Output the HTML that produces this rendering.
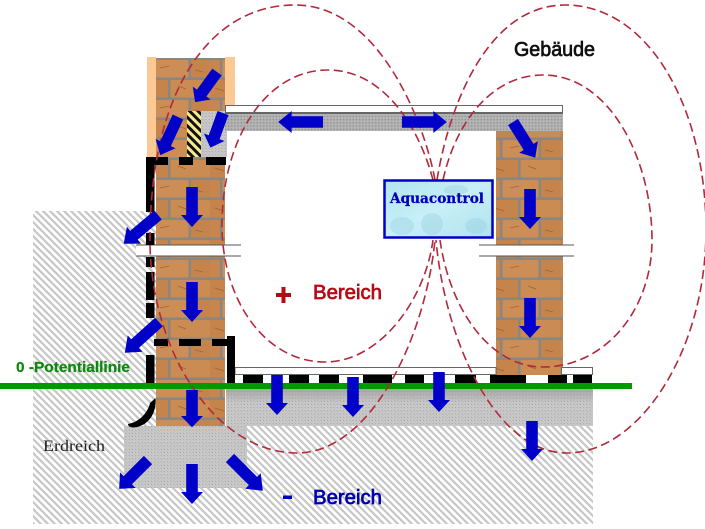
<!DOCTYPE html>
<html><head><meta charset="utf-8"><style>html,body{margin:0;padding:0;background:#fff}svg{display:block}</style></head><body>
<svg xmlns="http://www.w3.org/2000/svg" width="705" height="529" viewBox="0 0 705 529">
<defs>
<pattern id="h" width="7" height="7" patternUnits="userSpaceOnUse"><rect width="7" height="7" fill="#fff"/><path d="M-1.500 -1.500L8.500 8.500M-1.500 5.500L1.500 8.500M5.500 -1.500L8.500 1.500" stroke="#c6c6c6" stroke-width="2.200" fill="none"/></pattern>
<pattern id="g" width="3.200" height="3.200" patternUnits="userSpaceOnUse"><rect width="3.200" height="3.200" fill="#cbcbcb"/><rect x=".6" y=".6" width="1.200" height="1.200" fill="#a2a2a2"/><rect x="2.200" y="2.200" width=".8" height=".8" fill="#b2b2b2"/></pattern>
<pattern id="gd" width="3.200" height="3.200" patternUnits="userSpaceOnUse"><rect width="3.200" height="3.200" fill="#b4b4b4"/><rect x=".6" y=".6" width="1.300" height="1.300" fill="#8a8a8a"/></pattern>
<pattern id="b" width="70" height="40" patternUnits="userSpaceOnUse">
<rect width="70" height="40" fill="#8a8680"/>
<rect x="0" y="0" width="28" height="17.500" rx="1.500" fill="#c4844c"/><rect x="30.500" y="0" width="39.500" height="17.500" rx="1.500" fill="#cb8c54"/>
<rect x="0" y="20" width="10" height="17.500" rx="1.500" fill="#c6864e"/><rect x="12.500" y="20" width="36" height="17.500" rx="1.500" fill="#cc8e56"/><rect x="51" y="20" width="19" height="17.500" rx="1.500" fill="#c4844c"/>
<path d="M5 8l9 3M38 6l8 3M20 28l9-2M55 30l8 2" stroke="#a2622f" stroke-width=".8" fill="none"/>
</pattern>
<pattern id="st" width="6" height="6" patternUnits="userSpaceOnUse" patternTransform="rotate(-45)"><rect width="6" height="6" fill="#f5ea90"/><rect width="3" height="6" fill="#111"/></pattern>
<linearGradient id="sh" x1="0" y1="0" x2="0" y2="1"><stop offset="0" stop-color="#777" stop-opacity=".4"/><stop offset="1" stop-color="#777" stop-opacity="0"/></linearGradient>
<linearGradient id="aq" x1="0" y1="0" x2="1" y2="1"><stop offset="0" stop-color="#b0e4f0"/><stop offset=".5" stop-color="#c8eff6"/><stop offset="1" stop-color="#b0e2ee"/></linearGradient>
<polygon id="a" points="-5.800,0 5.800,0 5.800,28 11,28 0,40 -11,28 -5.800,28" fill="#0000c8"/>
</defs>

<!-- ground -->
<rect x="33" y="211" width="130" height="313" fill="url(#h)"/>
<rect x="163" y="426" width="430" height="98" fill="url(#h)"/>

<!-- footing and floor slab -->
<rect x="124" y="426" width="123" height="62" fill="url(#g)"/>
<rect x="226" y="389" width="367" height="37" fill="url(#g)"/>
<rect x="226" y="389" width="367" height="14" fill="url(#sh)"/>

<!-- left wall -->
<rect x="147" y="57" width="9" height="100" fill="#fbc994"/>
<rect x="225" y="57" width="10" height="48" fill="#fbc994"/>
<rect x="156" y="58" width="69" height="368" fill="url(#b)"/>
<rect x="187" y="111" width="14" height="46" fill="url(#st)"/>
<rect x="201" y="111" width="26" height="46" fill="url(#g)"/>

<!-- right wall -->
<rect x="496" y="131" width="67" height="244" fill="url(#b)"/>

<!-- top slab -->
<rect x="225.500" y="105.500" width="337" height="7" fill="#fff" stroke="#666" stroke-width="1"/>
<rect x="225" y="112" width="338" height="19" fill="url(#gd)"/>
<rect x="225" y="112" width="338" height="2" fill="#666"/>

<!-- wall breaks -->
<rect x="136" y="245" width="105" height="11" fill="#fff"/>
<rect x="479" y="245" width="95" height="11" fill="#fff"/>
<path d="M136 245H241M136 256H241M479 245H574M479 256H574" stroke="#555" stroke-width="1"/>

<!-- floor strip -->
<rect x="235" y="367.500" width="261" height="7" fill="#fff" stroke="#666" stroke-width="1"/>
<rect x="561.500" y="367.500" width="31" height="7" fill="#fff" stroke="#666" stroke-width="1"/>

<!-- black seal -->
<g fill="#000">
<rect x="146" y="157" width="22" height="8"/><rect x="179" y="157" width="14" height="8"/><rect x="206" y="157" width="20" height="8"/>
<rect x="146" y="157" width="8.500" height="55"/><rect x="146" y="233" width="8.500" height="12"/><rect x="146" y="257" width="8.500" height="10"/>
<rect x="146" y="272" width="8.500" height="28"/><rect x="146" y="303" width="8.500" height="15"/>
<rect x="146" y="355" width="8.500" height="28"/>
<rect x="154" y="339" width="14" height="7"/><rect x="179" y="339" width="22" height="7"/><rect x="212" y="339" width="16" height="7"/>
<rect x="227" y="336" width="8" height="47"/>
<rect x="243" y="375" width="20" height="8"/><rect x="289" y="375" width="20" height="8"/><rect x="319" y="375" width="20" height="8"/>
<rect x="363" y="375" width="29" height="8"/><rect x="405" y="375" width="19" height="8"/>
<rect x="455" y="375" width="21" height="8"/><rect x="490" y="375" width="36" height="8"/><rect x="548" y="375" width="19" height="8"/><rect x="573" y="375" width="19" height="8"/>
</g>
<path d="M155.500 398C157 412 149 426 134 427.500C130 427.500 128 426 128 424C140 422 148 412 150 403Z" fill="#000"/>

<!-- green line -->
<rect x="0" y="383" width="632" height="6" fill="#009a00"/>

<!-- field lines -->
<g fill="none" stroke="#b02a3c" stroke-width="1.600" stroke-dasharray="9 4.500">
<path d="M435 180C425 125 380 5 295 5C210 5 150 90 150 240C150 350 215 453 297 453C370 453 425 340 435 240"/>
<path d="M433 180C420 130 385 70 328 70C265 70 222 140 222 225C222 300 265 362 325 362C380 362 425 300 433 240"/>
<path d="M443 180C455 125 490 75 543 75C610 75 652 160 652 240C652 310 605 367 543 367C490 367 450 310 440 240"/>
<path d="M437 180C450 100 490 5 565 5C650 5 706 110 706 230C706 350 640 453 567 453C495 453 445 340 436 240"/>
</g>

<!-- arrows -->
<use href="#a" transform="translate(217,72) rotate(36) scale(1,.93)"/>
<use href="#a" transform="translate(178,117) rotate(25) scale(1,1.05)"/>
<use href="#a" transform="translate(223,113) rotate(20) scale(1,.92)"/>
<use href="#a" transform="translate(323,122) rotate(90) scale(1,1.12)"/>
<use href="#a" transform="translate(192,187)"/>
<use href="#a" transform="translate(158,215) rotate(50) scale(1,1.12)"/>
<use href="#a" transform="translate(192,282)"/>
<use href="#a" transform="translate(159,322) rotate(48) scale(1,1.15)"/>
<use href="#a" transform="translate(192,390) scale(1,.93)"/>
<use href="#a" transform="translate(148,460) rotate(45) scale(1,1.02)"/>
<use href="#a" transform="translate(192,464)"/>
<use href="#a" transform="translate(230,458) rotate(-45) scale(1,1.16)"/>
<use href="#a" transform="translate(277,375)"/>
<use href="#a" transform="translate(353,377)"/>
<use href="#a" transform="translate(439,372)"/>
<use href="#a" transform="translate(532,421)"/>
<use href="#a" transform="translate(402,122) rotate(-90) scale(1,1.12)"/>
<use href="#a" transform="translate(513,122) rotate(-32) scale(1,1.05)"/>
<use href="#a" transform="translate(530,189)"/>
<use href="#a" transform="translate(530,298)"/>

<!-- Aquacontrol box -->
<rect x="384.500" y="180.500" width="108" height="57" fill="url(#aq)" stroke="#0000c8" stroke-width="2.500"/>
<g fill="#90cce0" opacity=".35"><ellipse cx="402" cy="226" rx="12" ry="9"/><ellipse cx="432" cy="224" rx="11" ry="11"/><ellipse cx="476" cy="226" rx="11" ry="8"/><ellipse cx="456" cy="190" rx="12" ry="5"/></g>
<text x="390" y="203" font-family="'DejaVu Serif',serif" font-size="14" font-weight="bold" fill="#0000b8" stroke="#0000b8" stroke-width=".3" textLength="94" lengthAdjust="spacingAndGlyphs">Aquacontrol</text>

<!-- labels -->
<text x="514" y="56" font-family="'Liberation Sans',sans-serif" font-size="20" fill="#111" stroke="#111" stroke-width=".7" textLength="81" lengthAdjust="spacingAndGlyphs">Gebäude</text>
<text x="313" y="299" font-family="'Liberation Sans',sans-serif" font-size="20" fill="#b80a14" stroke="#b80a14" stroke-width=".7" textLength="69" lengthAdjust="spacingAndGlyphs">Bereich</text>
<path d="M283.500 287V303M276 295H291" stroke="#b80a14" stroke-width="4"/>
<text x="313" y="504" font-family="'Liberation Sans',sans-serif" font-size="20" fill="#0000b0" stroke="#0000b0" stroke-width=".7" textLength="69" lengthAdjust="spacingAndGlyphs">Bereich</text>
<rect x="283" y="495.500" width="9" height="3.500" fill="#0000c8"/>
<text x="16" y="372" font-family="'Liberation Sans',sans-serif" font-size="15" font-weight="bold" fill="#0a8a0a" stroke="#0a8a0a" stroke-width=".2" textLength="114" lengthAdjust="spacingAndGlyphs">0 -Potentiallinie</text>
<text x="43" y="451" font-family="'Liberation Serif',serif" font-size="16" fill="#222" textLength="62" lengthAdjust="spacingAndGlyphs">Erdreich</text>
</svg>
</body></html>
